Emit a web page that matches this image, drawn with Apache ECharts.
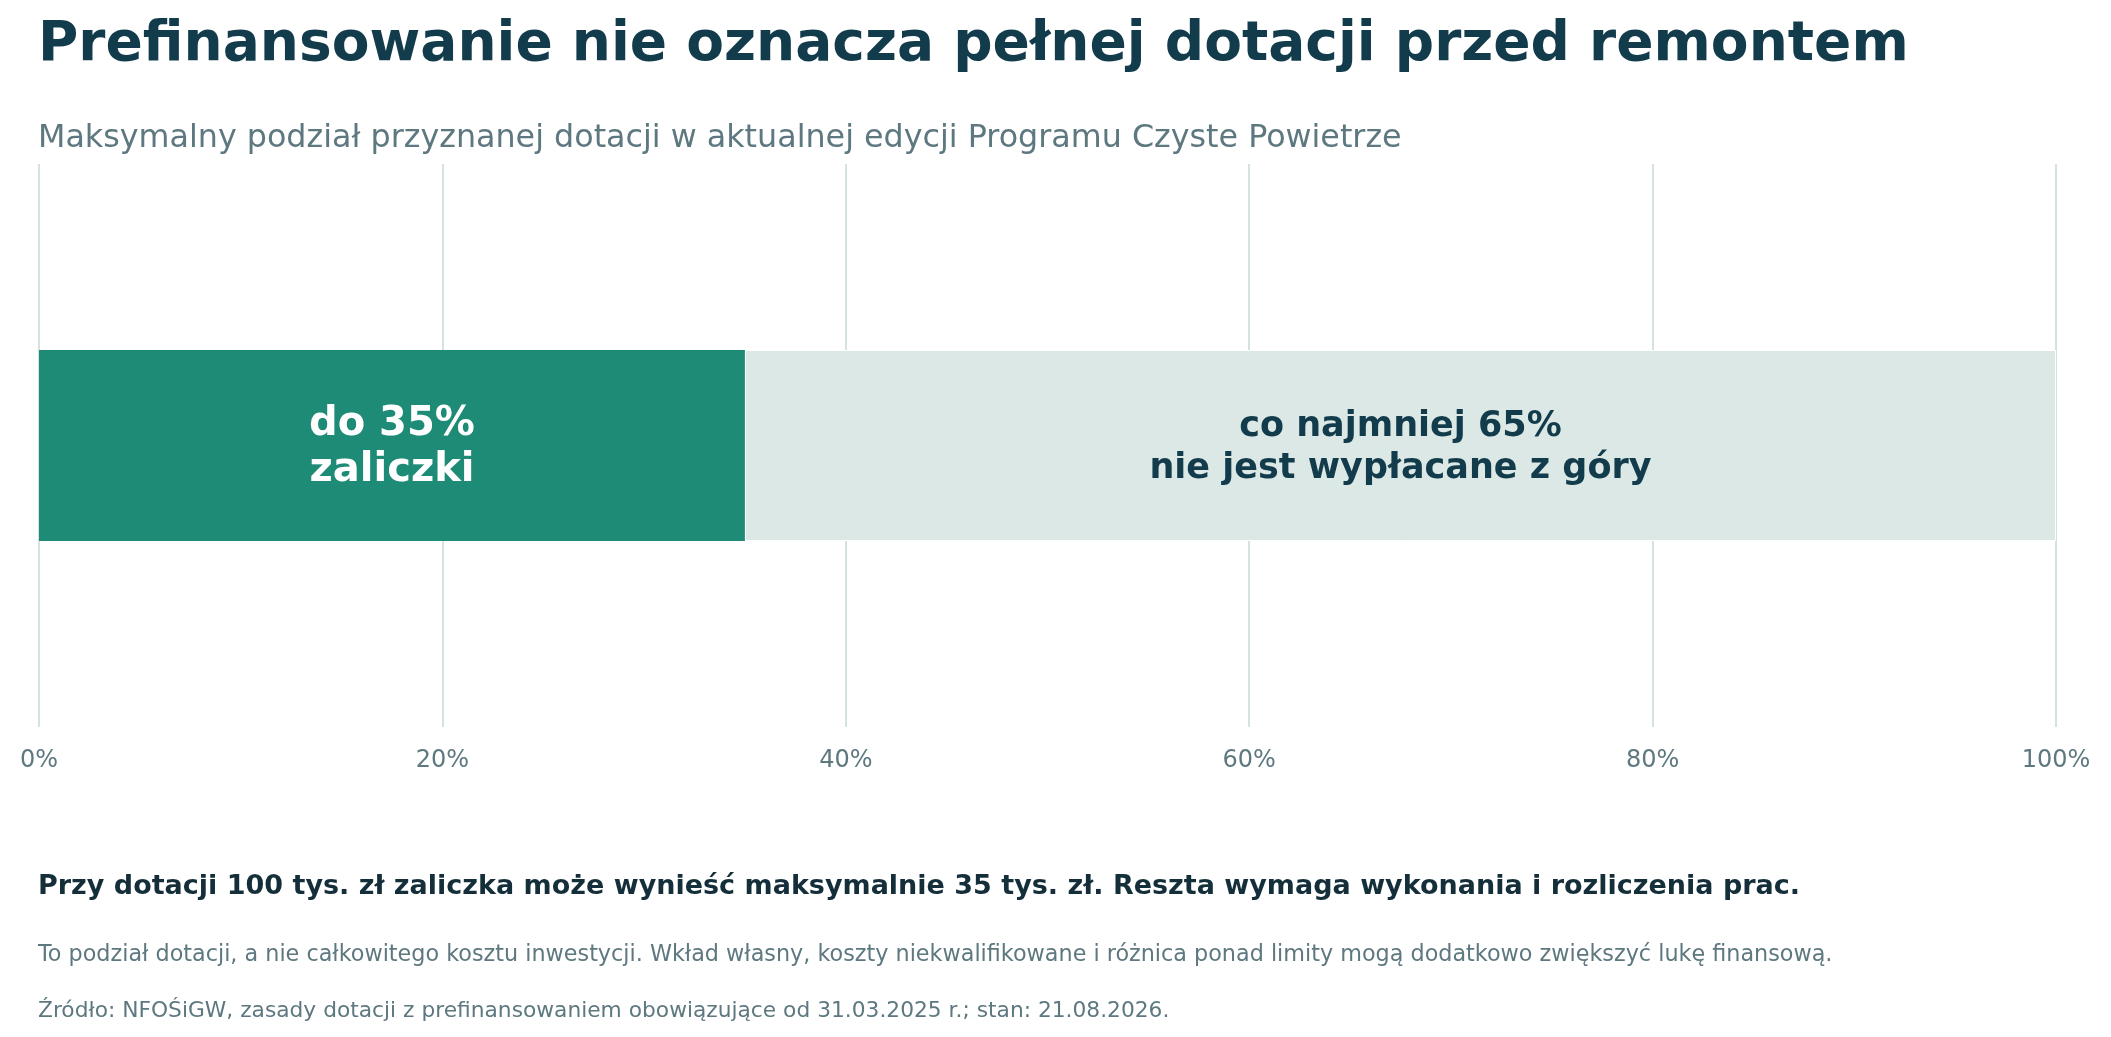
<!DOCTYPE html>
<html>
<head>
    <meta charset="utf-8">
    <title>Prefinansowanie</title>
    <script src="https://cdn.jsdelivr.net/npm/echarts@6/dist/echarts.min.js"></script>
    <style>
        html, body { margin: 0; padding: 0; background: #ffffff; }
        #chart { width: 2111px; height: 1037px; }
    </style>
</head>
<body>
    <div id="chart"></div>
    <script>
        // dane
        var categories = ['Dotacja'];
        var advanceValues = [35];
        var restValues = [65];
        var advanceLabel = 'do 35%\nzaliczki';
        var restLabel = 'co najmniej 65%\nnie jest wypłacane z góry';
        var tickLabels = ['0%', '20%', '40%', '60%', '80%', '100%'];

        var font = 'DejaVu Sans';
        var chart = echarts.init(document.getElementById('chart'));

        var option = {
            backgroundColor: '#ffffff',
            animation: false,
            title: [
                {
                    text: 'Prefinansowanie nie oznacza pełnej dotacji przed remontem',
                    left: 33, top: 13,
                    textStyle: { fontFamily: font, fontSize: 55, fontWeight: 'bold', color: '#123b4b' }
                },
                {
                    text: 'Maksymalny podział przyznanej dotacji w aktualnej edycji Programu Czyste Powietrze',
                    left: 33, top: 118,
                    textStyle: { fontFamily: font, fontSize: 31.75, fontWeight: 'normal', color: '#5e7880' }
                },
                {
                    text: 'Przy dotacji 100 tys. zł zaliczka może wynieść maksymalnie 35 tys. zł. Reszta wymaga wykonania i rozliczenia prac.',
                    left: 33, top: 868,
                    textStyle: { fontFamily: font, fontSize: 27, fontWeight: 'bold', color: '#152f3a' }
                },
                {
                    text: 'To podział dotacji, a nie całkowitego kosztu inwestycji. Wkład własny, koszty niekwalifikowane i różnica ponad limity mogą dodatkowo zwiększyć lukę finansową.',
                    left: 33, top: 939,
                    textStyle: { fontFamily: font, fontSize: 22.3, fontWeight: 'normal', color: '#5e7880' }
                },
                {
                    text: 'Źródło: NFOŚiGW, zasady dotacji z prefinansowaniem obowiązujące od 31.03.2025 r.; stan: 21.08.2026.',
                    left: 33, top: 995,
                    textStyle: { fontFamily: font, fontSize: 21.75, fontWeight: 'normal', color: '#5e7880' }
                }
            ],
            grid: { left: 39, right: 55, top: 164, bottom: 310 },
            xAxis: {
                type: 'value',
                min: 0,
                max: 100,
                interval: 20,
                axisLine: { show: false },
                axisTick: { show: false },
                axisLabel: {
                    fontFamily: font,
                    fontSize: 24,
                    color: '#5e7880',
                    margin: 22,
                    formatter: function (v) { return tickLabels[v / 20]; }
                },
                splitLine: { lineStyle: { color: '#d3e3e0', width: 2 } }
            },
            yAxis: {
                type: 'category',
                data: categories,
                show: false
            },
            series: [
                {
                    name: 'Zaliczka',
                    type: 'bar',
                    stack: 'total',
                    barWidth: 191,
                    data: advanceValues,
                    itemStyle: { color: '#1e8b77' },
                    label: {
                        show: true,
                        position: 'inside',
                        offset: [0, 2],
                        formatter: advanceLabel,
                        fontFamily: font,
                        fontSize: 40,
                        fontWeight: 'bold',
                        lineHeight: 46,
                        color: '#ffffff'
                    }
                },
                {
                    name: 'Reszta',
                    type: 'bar',
                    stack: 'total',
                    barWidth: 191,
                    data: restValues,
                    itemStyle: { color: '#dce8e5', borderColor: '#ffffff', borderWidth: 1 },
                    label: {
                        show: true,
                        position: 'inside',
                        offset: [0, 2],
                        formatter: restLabel,
                        fontFamily: font,
                        fontSize: 35,
                        fontWeight: 'bold',
                        lineHeight: 42,
                        color: '#123b4b'
                    }
                }
            ]
        };

        chart.setOption(option);
    </script>
</body>
</html>
